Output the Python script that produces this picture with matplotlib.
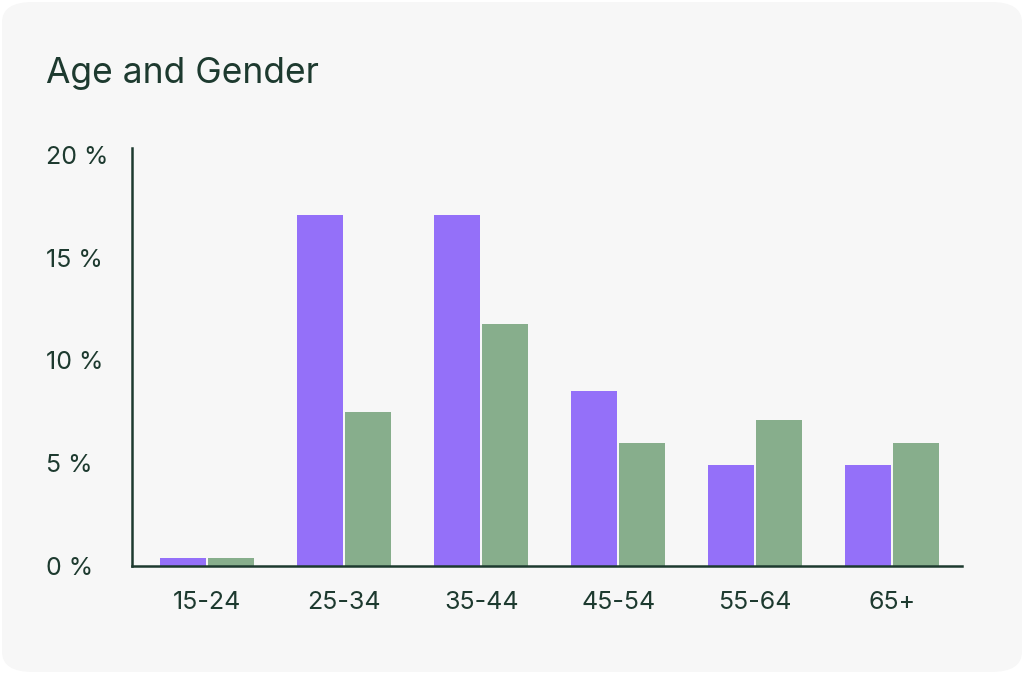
import matplotlib
matplotlib.use("Agg")
import matplotlib.pyplot as plt
from matplotlib.patches import FancyBboxPatch
import numpy as np

categories = ["15-24", "25-34", "35-44", "45-54", "55-64", "65+"]
series_a = [0.4, 17.1, 17.1, 8.5, 4.9, 4.9]   # purple
series_b = [0.4, 7.5, 11.8, 6.0, 7.1, 6.0]    # green
yticks = [0, 5, 10, 15, 20]
ytick_labels = ["0 %", "5 %", "10 %", "15 %", "20 %"]
title = "Age and Gender"

TXT = "#1d3a2f"
plt.rcParams['font.family'] = ['Inter', 'DejaVu Sans']

fig = plt.figure(figsize=(10.24, 6.74), dpi=100, facecolor="white")
card = FancyBboxPatch((2/1024, 2/674), 1 - 4/1024, 1 - 4/674,
                      boxstyle="round,pad=0,rounding_size=0.03",
                      transform=fig.transFigure, facecolor="#f7f7f7",
                      edgecolor="none", zorder=-10)
fig.patches.append(card)

ax = fig.add_axes([132/1024, 108/674, 830/1024, 418/674])
ax.set_zorder(5)
ax.set_facecolor("none")
x = np.arange(len(categories))
w = 0.336
ax.bar(x - 0.175, series_a, width=w, color="#9470f9", zorder=2)
ax.bar(x + 0.175, series_b, width=w, color="#87ae8c", zorder=2)

ax.set_xlim(-0.55, 5.51)
ax.set_ylim(0, 20.34)
ax.set_xticks(x)
ax.set_xticklabels(categories, fontsize=18, color=TXT)
ax.set_yticks(yticks)
ax.set_yticklabels(ytick_labels, fontsize=18, color=TXT, ha="left")
ax.tick_params(axis="y", length=0, pad=62)
ax.tick_params(axis="x", length=0, pad=18)
for s in ["top", "right"]:
    ax.spines[s].set_visible(False)
for s in ["left", "bottom"]:
    ax.spines[s].set_color(TXT)
    ax.spines[s].set_linewidth(1.8)

fig.text(46/1024, 1 - 73/674, title, fontsize=25.5, color=TXT,
         ha="left", va="center", zorder=6)

fig.savefig("out.png", dpi=100, facecolor="white")
